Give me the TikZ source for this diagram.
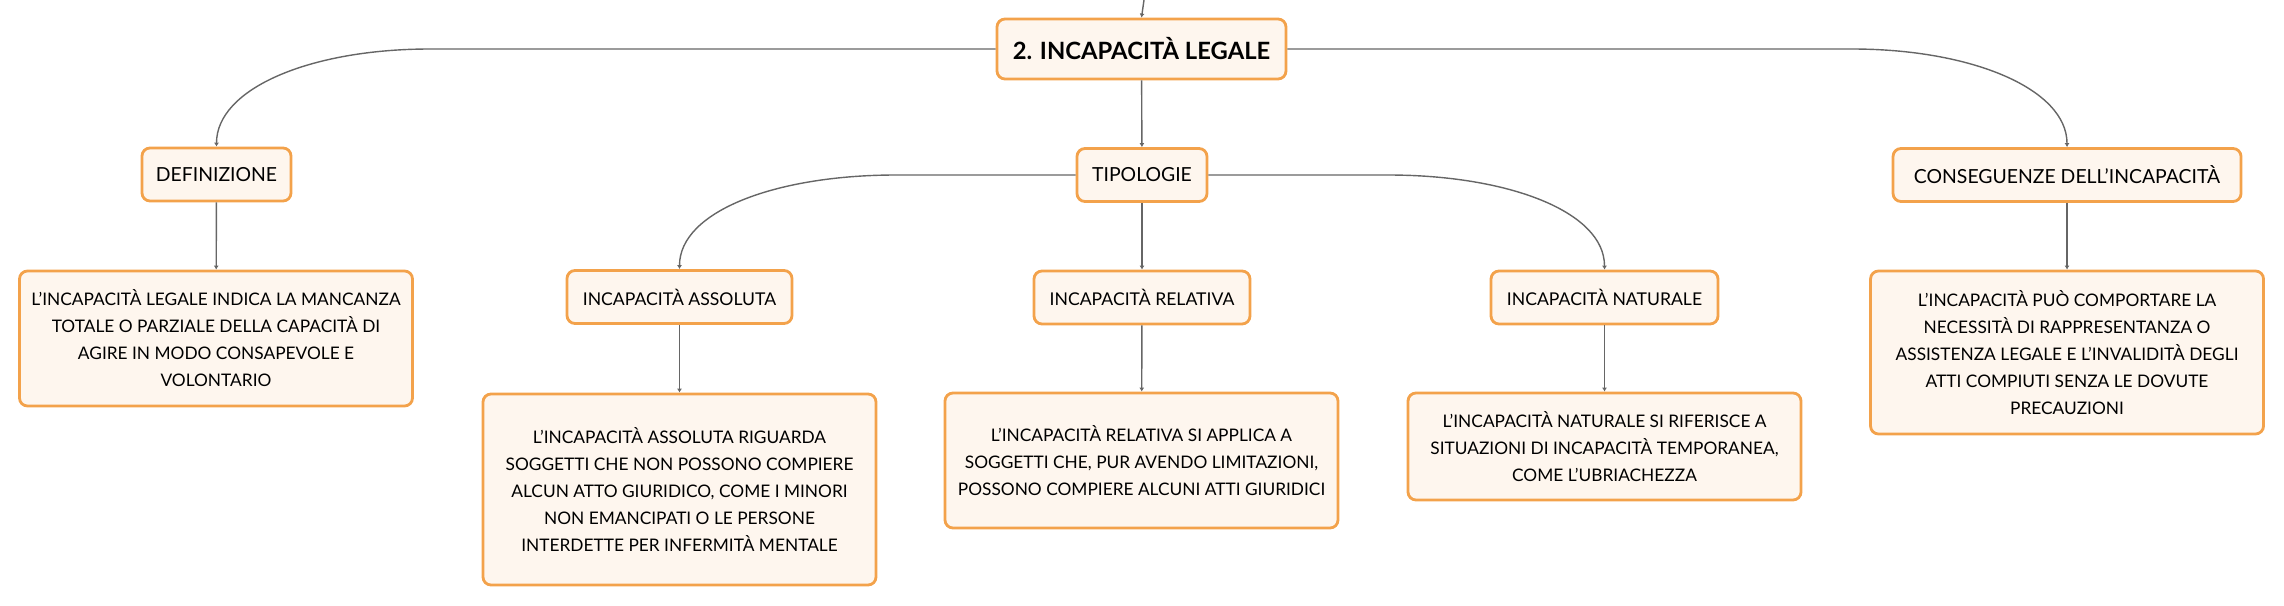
\documentclass[tikz,border=0pt]{standalone}
\usepackage{fontspec}
\setmainfont{Lato}
\usetikzlibrary{positioning,arrows.meta}
\definecolor{boxfill}{HTML}{FEF6EE}
\definecolor{boxline}{HTML}{F3A24B}
\definecolor{linkgray}{HTML}{666666}
\tikzset{
mybox/.style={
  draw=boxline,
  fill=boxfill,
  line width=1.4pt,
  rounded corners=4pt,
  align=center,
  inner sep=0pt,
  minimum height=26.5pt,
  font=\fontsize{9.7}{12}\selectfont
  },
mysub/.style={
  mybox,
  font=\fontsize{8.8}{11}\selectfont
  },
mytext/.style={
  mybox,
  minimum width=196.5pt,
  font=\fontsize{8.65}{13.5}\selectfont
  }
}
\begin{document}
\begin{tikzpicture}[x=0.5pt, y=0.5pt, >={Latex[length=2pt,width=2.5pt]}]
\useasboundingbox (0,0) rectangle (2284,-605);
\node[mybox, minimum width=144.5pt, minimum height=30pt,
  font=\fontsize{11.9}{14}\selectfont\bfseries]
  at (1141.5,-49) (root) {2. INCAPACITÀ LEGALE};
\node[mybox, minimum width=74.5pt] at (216.5,-174.5) (def) {DEFINIZIONE};
\node[mybox, minimum width=65pt] at (1142,-175) (tip) {TIPOLOGIE};
\node[mybox, minimum width=174pt] at (2067,-175) (cons) {CONSEGUENZE DELL'INCAPACITÀ};
\node[mysub, minimum width=112.5pt] at (679.5,-297) (ass) {INCAPACITÀ ASSOLUTA};
\node[mysub, minimum width=108pt] at (1142,-297.5) (rel) {INCAPACITÀ RELATIVA};
\node[mysub, minimum width=113.5pt] at (1604.5,-297.5) (nat) {INCAPACITÀ NATURALE};

\node[mytext, minimum height=67.5pt] at (216,-338.5) (deftxt)
  {L'INCAPACITÀ LEGALE INDICA LA MANCANZA\\TOTALE O PARZIALE DELLA CAPACITÀ DI\\AGIRE IN MODO CONSAPEVOLE E\\VOLONTARIO};
\node[mytext, minimum height=95.5pt] at (679.5,-489.5) (asstxt)
  {L'INCAPACITÀ ASSOLUTA RIGUARDA\\SOGGETTI CHE NON POSSONO COMPIERE\\ALCUN ATTO GIURIDICO, COME I MINORI\\NON EMANCIPATI O LE PERSONE\\INTERDETTE PER INFERMITÀ MENTALE};
\node[mytext, minimum height=67.5pt] at (1141.5,-460.5) (reltxt)
  {L'INCAPACITÀ RELATIVA SI APPLICA A\\SOGGETTI CHE, PUR AVENDO LIMITAZIONI,\\POSSONO COMPIERE ALCUNI ATTI GIURIDICI};
\node[mytext, minimum height=53.5pt] at (1604.5,-446.5) (nattxt)
  {L'INCAPACITÀ NATURALE SI RIFERISCE A\\SITUAZIONI DI INCAPACITÀ TEMPORANEA,\\COME L'UBRIACHEZZA};
\node[mytext, minimum height=81.5pt] at (2067,-352.5) (constxt)
  {L'INCAPACITÀ PUÒ COMPORTARE LA\\NECESSITÀ DI RAPPRESENTANZA O\\ASSISTENZA LEGALE E L'INVALIDITÀ DEGLI\\ATTI COMPIUTI SENZA LE DOVUTE\\PRECAUZIONI};

\coordinate (up) at (1144,0);
\coordinate (k1) at (430,-49);
\coordinate (k2) at (1852,-49);
\coordinate (k3) at (896,-175);
\coordinate (k4) at (1388,-175);

\begin{scope}[draw=linkgray, line width=0.7pt]
\draw[->] (up) -- (root.north);
\draw[->] (root.west) -- (k1) .. controls +(-120,0) and +(0,58) .. (def.north);
\draw[->] (root) -- (tip);
\draw[->] (root.east) -- (k2) .. controls +(120,0) and +(0,58) .. (cons.north);
\draw[->] (tip.west) -- (k3) .. controls +(-120,0) and +(0,58) .. (ass.north);
\draw[->] (tip) -- (rel);
\draw[->] (tip.east) -- (k4) .. controls +(120,0) and +(0,58) .. (nat.north);
\draw[->] (def) -- (deftxt);
\draw[->] (ass) -- (asstxt);
\draw[->] (rel) -- (reltxt);
\draw[->] (nat) -- (nattxt);
\draw[->] (cons) -- (constxt);
\end{scope}
\end{tikzpicture}
\end{document}
